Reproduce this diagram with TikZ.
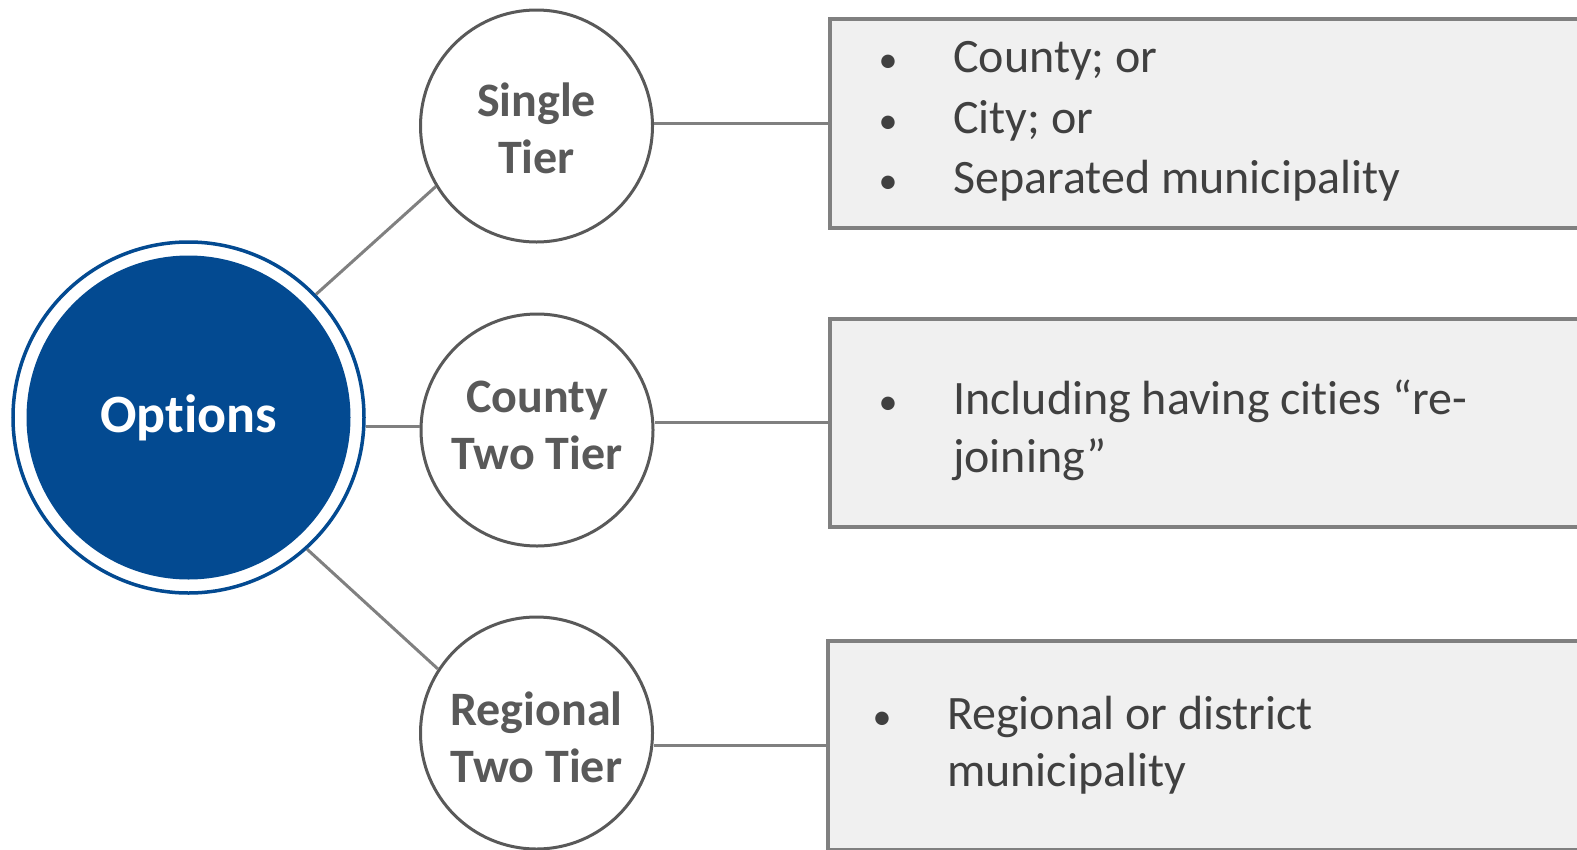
\documentclass[tikz,border=0pt]{standalone}
\usepackage{fontspec}
\usetikzlibrary{calc}
\setmainfont{Carlito}[Ligatures={NoCommon,NoRare}]
\definecolor{optblue}{HTML}{034A91}
\definecolor{ringgray}{HTML}{595959}
\definecolor{linegray}{HTML}{808080}
\definecolor{boxfill}{HTML}{F0F0F0}
\definecolor{boxtext}{HTML}{404040}
\begin{document}
\begin{tikzpicture}[x=1pt,y=-1pt,
  tier/.style={circle, draw=ringgray, line width=3pt, fill=white, minimum size=232pt,
    inner sep=0pt},
  tierlabel/.style={align=center, inner sep=0pt, text=ringgray,
    font=\bfseries\fontsize{48}{57}\selectfont},
  infobox/.style={rectangle, draw=linegray, line width=3.5pt, fill=boxfill, anchor=north west,
    minimum width=900pt, inner sep=0pt},
  link/.style={draw=linegray, line width=3pt},
  item/.style={anchor=base west, inner sep=0pt, text=boxtext, font=\fontsize{48}{57}\selectfont},
  dot/.style={anchor=base, inner sep=0pt, text=boxtext, font=\fontsize{38}{57}\selectfont}]
\useasboundingbox (0,0) rectangle (1577,849);

% central node: outer ring and filled disc
\node[circle, draw=optblue, line width=3.5pt, minimum size=351pt, inner sep=0pt] (ring) at (188.5,417.5) {};
\node[circle, fill=optblue, minimum size=324pt, inner sep=0pt, text=white,
  font=\bfseries\fontsize{54}{64}\selectfont] (opt) at (ring.center) {Options};

% tier circles
\node[tier, label={[tierlabel, yshift=-2pt]center:{Single\\Tier}}] (t1) at (536.5,126) {};
\node[tier, label={[tierlabel, yshift=5pt]center:{County\\Two Tier}}] (t2) at (537,430) {};
\node[tier, label={[tierlabel, yshift=-4pt]center:{Regional\\Two Tier}}] (t3) at (536.5,733) {};

% detail boxes
\node[infobox, minimum height=209pt] (b1) at (828,17) {};
\node[infobox, minimum height=208pt] (b2) at (828,317) {};
\node[infobox, minimum height=209pt] (b3) at (826,639) {};

% connectors from the centre to the tiers
\coordinate (m0) at ($(ring.east |- t2.west)+(0,-4)$);
\coordinate (m1) at ($(t2.west)+(0,-4)$);
\path[link] (ring.44) -- (t1.211);
\path[link] (m0) -- (m1);
\path[link] (ring.-48) -- (t3.147);

% connectors from the tiers to the boxes
\path[link] (b1.west) -- (t1.east |- b1.west);
\path[link] (b2.west) -- (t2.east |- b2.west);
\path[link] (b3.west) -- (t3.east |- b3.west);

% box contents
\node[dot] (d11) at (888,72) {•};
\node[item] (i11) at (953,72) {County; or};
\node[dot] (d12) at (888,133) {•};
\node[item] (i12) at (953,133) {City; or};
\node[dot] (d13) at (888,193) {•};
\node[item] (i13) at (953,193) {Separated municipality};

\node[dot] (d21) at (888,414) {•};
\node[item] (i21) at (953,414) {Including having cities “re-};
\node[item] (i22) at (953,472) {joining”};

\node[dot] (d31) at (882,729) {•};
\node[item] (i31) at (947,729) {Regional or district};
\node[item] (i32) at (947,786) {municipality};
\end{tikzpicture}
\end{document}
